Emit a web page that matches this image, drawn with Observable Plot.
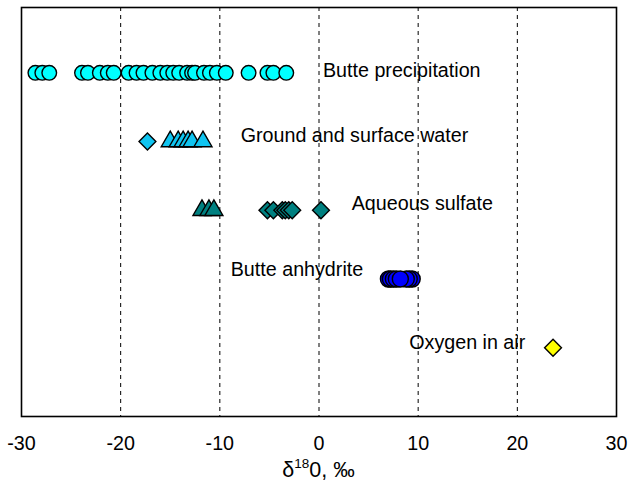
<!DOCTYPE html>
<html>
<head>
<meta charset="utf-8">
<script src="https://cdn.jsdelivr.net/npm/d3@7"></script>
<script src="https://cdn.jsdelivr.net/npm/@observablehq/plot@0.6"></script>
<style>
  html, body { margin: 0; padding: 0; background: #fff; }
  #chart { width: 628px; height: 481px; }
</style>
</head>
<body>
<div id="chart"></div>
<script>
// Row positions (1 = bottom row)
const rowPrecip = 5, rowWater = 4, rowSulfate = 3, rowAnhydrite = 2, rowAir = 1;

// δ18O values (‰)
const precipValues = [-28.6, -27.9, -27.2, -23.9, -23.3, -22.1, -21.3, -20.7, -19.2, -18.4, -17.7, -16.8, -16.0, -15.3, -14.7, -14.1, -13.3, -12.8, -12.5, -11.6, -11.0, -10.3, -9.4, -7.1, -5.2, -4.6, -3.3];
const waterDiamondValues = [-17.3];
const waterTriangleValues = [-15.0, -14.2, -13.7, -13.2, -12.8, -11.7];
const sulfateTriangleValues = [-11.8, -11.1, -10.6];
const sulfateDiamondValues = [-5.2, -4.6, -3.7, -3.4, -3.05, -2.7, 0.2];
const anhydriteValues = [7.0, 7.2, 7.5, 7.8, 9.4, 9.1, 8.8, 8.2];
const airValues = [23.6];

// Annotation labels
const labelTexts = ["Butte precipitation", "Ground and surface water", "Aqueous sulfate", "Butte anhydrite", "Oxygen in air"];
const labelX = [0.4, -7.9, 3.3, -8.9, 9.1];
const labelY = [5.03, 4.08, 3.1, 2.14, 1.08];

const xTicks = [-30, -20, -10, 0, 10, 20, 30];
const gridValues = [-20, -10, 0, 10, 20];

const toPts = (vals, row) => vals.map(v => ({x: v, y: row}));
const labels = labelTexts.map((t, i) => ({text: t, x: labelX[i], y: labelY[i]}));

const FONT = "Liberation Sans, Arial, Helvetica, sans-serif";
const FS = 19.7;

const axisTitle = (index, scales, values, dimensions) => {
  const cx = dimensions.marginLeft + (dimensions.width - dimensions.marginLeft - dimensions.marginRight) / 2;
  const t = d3.create("svg:text")
    .attr("x", cx)
    .attr("y", dimensions.height - 4)
    .attr("text-anchor", "middle")
    .attr("font-family", FONT)
    .attr("font-size", 21.5)
    .attr("fill", "black");
  t.append("tspan").text("δ");
  t.append("tspan").attr("font-size", 13.5).attr("dy", -9).text("18");
  t.append("tspan").attr("dy", 9).text("0, ‰");
  return t.node();
};

const SW = 1.4;

const chart = Plot.plot({
  width: 628,
  height: 481,
  marginLeft: 21,
  marginRight: 12,
  marginTop: 7,
  marginBottom: 65,
  style: {fontFamily: FONT, fontSize: FS + "px", background: "white", color: "black"},
  x: {domain: [-30, 30]},
  y: {domain: [0, 5.95], axis: null},
  marks: [
    Plot.ruleX(gridValues, {stroke: "black", strokeWidth: 1, strokeDasharray: "4,4"}),
    Plot.frame({stroke: "black", strokeWidth: 1.6}),
    Plot.axisX(xTicks, {tickSize: 0, tickPadding: 19, tickFormat: d => String(d), fontSize: FS, fill: "black", label: null}),
    Plot.dot(toPts(precipValues, rowPrecip), {x: "x", y: "y", r: 7.3, fill: "#00ffff", stroke: "black", strokeWidth: SW, symbol: "circle"}),
    Plot.dot(toPts(waterDiamondValues, rowWater), {x: "x", y: "y", r: 7.6, fill: "#10c4f0", stroke: "black", strokeWidth: SW, symbol: "diamond2"}),
    Plot.dot(toPts(waterTriangleValues, rowWater), {x: "x", y: "y", r: 6.7, fill: "#10c4f0", stroke: "black", strokeWidth: SW, symbol: "triangle"}),
    Plot.dot(toPts(sulfateTriangleValues, rowSulfate), {x: "x", y: "y", r: 6.7, fill: "#008080", stroke: "black", strokeWidth: SW, symbol: "triangle"}),
    Plot.dot(toPts(sulfateDiamondValues, rowSulfate), {x: "x", y: "y", r: 7.6, fill: "#008080", stroke: "black", strokeWidth: SW, symbol: "diamond2"}),
    Plot.dot(toPts(anhydriteValues, rowAnhydrite), {x: "x", y: "y", r: 8, fill: "#0000ff", stroke: "black", strokeWidth: SW, symbol: "circle"}),
    Plot.dot(toPts(airValues, rowAir), {x: "x", y: "y", r: 7.6, fill: "#ffff00", stroke: "black", strokeWidth: SW, symbol: "diamond2"}),
    Plot.text(labels, {x: "x", y: "y", text: "text", textAnchor: "start", fontSize: FS, fill: "black"}),
    axisTitle
  ]
});

document.getElementById("chart").appendChild(chart);
</script>
</body>
</html>
